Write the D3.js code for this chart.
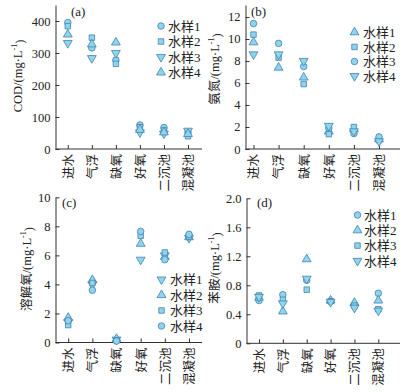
<!DOCTYPE html>
<html><head><meta charset="utf-8">
<script src="https://cdn.jsdelivr.net/npm/d3@7/dist/d3.min.js"></script>
<style>
body{margin:0;background:#fff;}
svg{display:block;}
text{font-family:"Liberation Serif","Noto Sans CJK SC",serif;fill:#222;}
</style></head>
<body>
<svg id="c" width="403" height="392"></svg>
<script>
// ---------- data ----------
const categories = ["进水","气浮","缺氧","好氧","二沉池","混凝池"];
const seriesNames = ["水样1","水样2","水样3","水样4"];

// (a) COD
const codS1 = [395, 316, 278, 75, 67, 52];
const codS2 = [384, 348, 266, 68, 58, 40];
const codS3 = [331, 284, 300, 52, 48, 57];
const codS4 = [358, 327, 333, 60, 52, 47];
const codTicks = [0, 100, 200, 300, 400];

// (b) 氨氮
const nhS1 = [9.7, 7.4, 6.5, 1.6, 1.8, 0.9];
const nhS2 = [10.4, 8.3, 5.9, 1.35, 2.0, 0.8];
const nhS3 = [11.4, 9.6, 7.5, 1.9, 1.4, 1.1];
const nhS4 = [8.6, 8.6, 8.0, 2.1, 1.6, 0.7];
const nhTicks = [0, 2, 4, 6, 8, 10, 12];

// (c) 溶解氧
const doS1 = [1.4, 4.0, 0.2, 5.7, 6.0, 7.2];
const doS2 = [1.7, 4.3, 0.25, 6.8, 5.9, 7.25];
const doS3 = [1.2, 4.1, 0.15, 7.35, 6.2, 7.3];
const doS4 = [1.5, 3.6, 0.1, 7.65, 5.7, 7.45];
const doTicks = [0, 2, 4, 6, 8, 10];

// (d) 苯胺
const anS1 = [0.59, 0.67, 0.87, 0.58, 0.53, 0.69];
const anS2 = [0.63, 0.44, 1.16, 0.59, 0.56, 0.59];
const anS3 = [0.66, 0.60, 0.74, 0.58, 0.52, 0.47];
const anS4 = [0.64, 0.55, 0.89, 0.57, 0.49, 0.45];
const anTicks = [0, 0.4, 0.8, 1.2, 1.6, 2.0];

// ---------- drawing ----------
const svg = d3.select("#c");
const FILL = "#92d3ec", STROKE = "#3f84b3";

const shapes = {
  circle: {type: d3.symbolCircle, size: 34, rot: 0},
  square: {type: d3.symbolSquare, size: 30, rot: 0},
  up: {type: d3.symbolTriangle, size: 34, rot: 0},
  down: {type: d3.symbolTriangle, size: 34, rot: 180}
};

function drawPanel(p) {
  const g = svg.append("g");
  const x = d3.scalePoint().domain(categories).range([p.first, p.last]);
  const y = d3.scaleLinear().domain([0, p.ymax]).range([p.yBottom, p.yTop]);

  // y axis
  const ya = g.append("g").attr("transform", `translate(${p.x0},0)`)
    .call(d3.axisLeft(y).tickValues(p.ticks).tickSizeInner(-4).tickSizeOuter(0).tickPadding(5)
      .tickFormat(p.fmt || d3.format("d")));
  ya.selectAll("text").style("font-size", "12.5px").style("font-family", "Liberation Serif");
  ya.selectAll("path,line").attr("stroke", "#333").attr("stroke-width", 1);

  // x axis
  const xa = g.append("g").attr("transform", `translate(0,${p.yBottom})`)
    .call(d3.axisBottom(x).tickSizeInner(-4).tickSizeOuter(0));
  xa.select(".domain").remove();
  xa.append("line").attr("x1", p.x0).attr("x2", p.x1).attr("y1", 0).attr("y2", 0)
    .attr("stroke", "#333").attr("stroke-width", 1);
  xa.selectAll("line").attr("stroke", "#333");
  xa.selectAll(".tick text")
    .attr("transform", "rotate(-90)")
    .attr("x", -5).attr("y", 0).attr("dy", "0.35em")
    .style("text-anchor", "end")
    .style("font-size", "12.5px")
    .style("font-family", "Noto Sans CJK SC");

  // y title
  const t = g.append("text")
    .attr("transform", `translate(${p.titleX},${p.titleY}) rotate(-90)`)
    .attr("text-anchor", "middle").attr("dominant-baseline", "central")
    .style("font-size", "12.5px");
  t.append("tspan").text(p.title + "/(mg·L");
  t.append("tspan").text("-1").attr("dy", "-0.45em").style("font-size", "8px");
  t.append("tspan").text(")").attr("dy", "0.45em");

  // panel letter
  g.append("text").attr("x", p.letterX).attr("y", p.letterY).text(p.letter)
    .style("font-size", "13px");

  // points
  p.series.forEach((vals, si) => {
    const sh = shapes[p.shapes[si]];
    g.append("g").selectAll("path").data(vals).join("path")
      .attr("d", d3.symbol().type(sh.type).size(sh.size))
      .attr("transform", (d, i) => `translate(${x(categories[i])},${y(d)}) rotate(${sh.rot})`)
      .attr("fill", FILL).attr("stroke", STROKE).attr("stroke-width", 0.8);
  });

  // legend
  const lg = g.append("g");
  seriesNames.forEach((n, si) => {
    const sh = shapes[p.shapes[si]];
    const yy = p.legY + si * p.legStep;
    lg.append("path").attr("d", d3.symbol().type(sh.type).size(sh.size))
      .attr("transform", `translate(${p.legX},${yy}) rotate(${sh.rot})`)
      .attr("fill", FILL).attr("stroke", STROKE).attr("stroke-width", 0.8);
    lg.append("text").attr("x", p.legTextX).attr("y", yy).attr("dy", "0.36em")
      .text(n).style("font-size", "13px");
  });
}

drawPanel({letter: "(a)", title: "COD", series: [codS1, codS2, codS3, codS4],
  shapes: ["circle", "square", "down", "up"], ticks: codTicks, ymax: 450,
  x0: 55.5, x1: 202, first: 67.8, last: 188, yBottom: 149, yTop: 5,
  titleX: 18, titleY: 76, letterX: 71, letterY: 16,
  legX: 161, legTextX: 168, legY: 26, legStep: 15.5});

drawPanel({letter: "(b)", title: "氨氮", series: [nhS1, nhS2, nhS3, nhS4],
  shapes: ["up", "square", "circle", "down"], ticks: nhTicks, ymax: 13.09,
  x0: 245.5, x1: 400, first: 253.5, last: 379, yBottom: 149, yTop: 5,
  titleX: 215, titleY: 69, letterX: 251, letterY: 16,
  legX: 354.5, legTextX: 363, legY: 32.3, legStep: 14.6});

drawPanel({letter: "(c)", title: "溶解氧", series: [doS1, doS2, doS3, doS4],
  shapes: ["down", "up", "square", "circle"], ticks: doTicks, ymax: 10,
  x0: 55.5, x1: 202, first: 68.2, last: 189, yBottom: 342.5, yTop: 197.3,
  titleX: 27, titleY: 269, letterX: 62, letterY: 207,
  legX: 161.5, legTextX: 170, legY: 279.5, legStep: 15.5});

drawPanel({letter: "(d)", title: "苯胺", series: [anS1, anS2, anS3, anS4],
  shapes: ["circle", "up", "square", "down"], ticks: anTicks, ymax: 2,
  fmt: d => d === 0 ? "0" : d3.format(".1f")(d),
  x0: 246.5, x1: 400, first: 259, last: 378.3, yBottom: 343.3, yTop: 198.3,
  titleX: 215, titleY: 268, letterX: 257, letterY: 207,
  legX: 357.5, legTextX: 364, legY: 215, legStep: 15.3});
</script>
</body></html>
